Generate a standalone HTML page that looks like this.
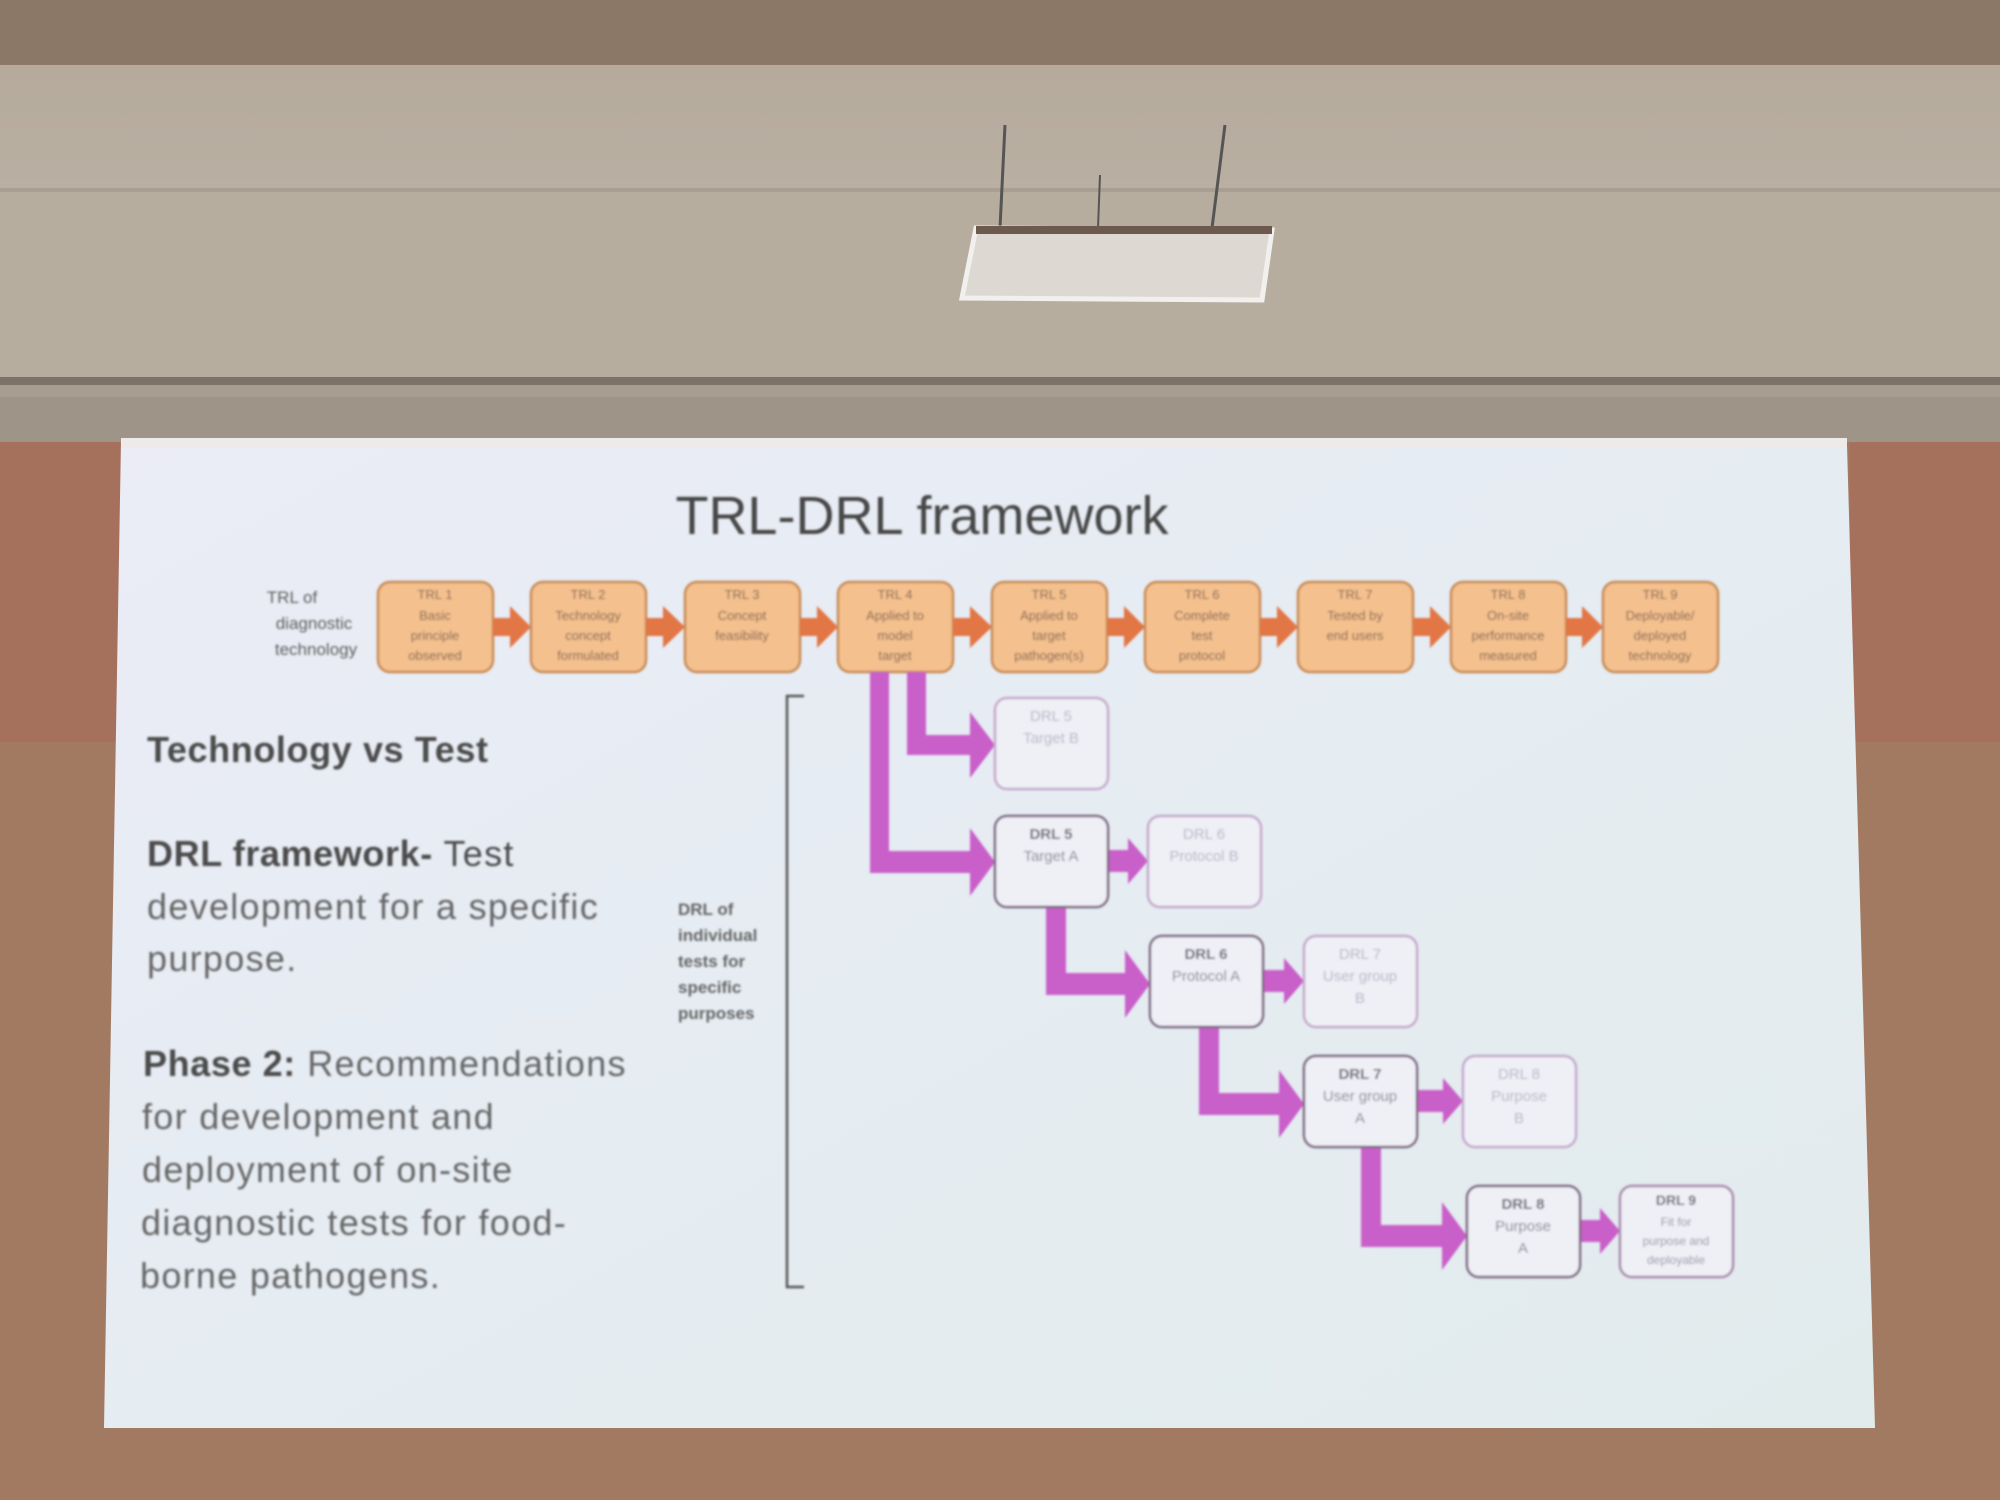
<!DOCTYPE html>
<html><head><meta charset="utf-8"><style>
html,body{margin:0;padding:0;width:2000px;height:1500px;overflow:hidden;background:#a27a62}
svg{display:block}
text{font-family:"Liberation Sans",sans-serif}
</style></head><body>
<svg width="2000" height="1500" viewBox="0 0 2000 1500" xmlns="http://www.w3.org/2000/svg">
<defs>
<linearGradient id="ceil" x1="0" y1="0" x2="0" y2="1">
<stop offset="0" stop-color="#b5aa9c"/><stop offset="1" stop-color="#b9afa2"/></linearGradient>
<linearGradient id="slide" x1="0" y1="0" x2="1" y2="1">
<stop offset="0" stop-color="#ebecf6"/><stop offset="0.5" stop-color="#e5ecf2"/><stop offset="1" stop-color="#e2ebec"/></linearGradient>
<filter id="b"><feGaussianBlur stdDeviation="1.1"/></filter>
</defs>
<rect x="0" y="0" width="2000" height="65" fill="#8c7866"/>
<rect x="0" y="65" width="2000" height="125" fill="url(#ceil)"/>
<rect x="0" y="188" width="2000" height="4" fill="#a99e90"/>
<rect x="0" y="192" width="2000" height="185" fill="#b7ad9f"/>
<rect x="0" y="377" width="2000" height="8" fill="#7e7268"/>
<rect x="0" y="385" width="2000" height="12" fill="#a79d90"/>
<rect x="0" y="397" width="2000" height="45" fill="#9e9488"/>
<rect x="0" y="442" width="2000" height="1058" fill="#a27a62"/>
<rect x="0" y="442" width="125" height="300" fill="#a5705c"/>
<rect x="1850" y="442" width="150" height="300" fill="#a5705c"/>
<line x1="1005" y1="125" x2="1000" y2="228" stroke="#555" stroke-width="3"/>
<line x1="1100" y1="175" x2="1098" y2="228" stroke="#555" stroke-width="2"/>
<line x1="1225" y1="125" x2="1212" y2="228" stroke="#555" stroke-width="3"/>
<polygon points="976,228 1272,230 1262,300 962,298" fill="#ddd8d2" stroke="#f2f0ee" stroke-width="5"/>
<rect x="976" y="226" width="296" height="8" fill="#6c5a4e"/>
<polygon points="121,440 1847,445 1875,1428 104,1428" fill="url(#slide)"/>
<rect x="121" y="438" width="1726" height="10" fill="#efeaea"/>
<g filter="url(#b)">
<text x="922" y="534" font-size="54" fill="#474747" text-anchor="middle">TRL-DRL framework</text>
<g font-size="17" fill="#5e5e5e" text-anchor="middle">
<text x="292" y="603">TRL of</text>
<text x="314" y="629">diagnostic</text>
<text x="316" y="655">technology</text>
</g>
<g stroke="#c88a55" stroke-width="2.5" fill="#f4c08e">
<rect x="378" y="582" width="115" height="90" rx="12"/>
<rect x="531" y="582" width="115" height="90" rx="12"/>
<rect x="685" y="582" width="115" height="90" rx="12"/>
<rect x="838" y="582" width="115" height="90" rx="12"/>
<rect x="992" y="582" width="115" height="90" rx="12"/>
<rect x="1145" y="582" width="115" height="90" rx="12"/>
<rect x="1298" y="582" width="115" height="90" rx="12"/>
<rect x="1451" y="582" width="115" height="90" rx="12"/>
<rect x="1603" y="582" width="115" height="90" rx="12"/>
</g>
<g fill="#e27645">
<polygon points="493,618 510,618 510,606 531,627 510,648 510,636 493,636"/>
<polygon points="646,618 663,618 663,606 685,627 663,648 663,636 646,636"/>
<polygon points="800,618 817,618 817,606 838,627 817,648 817,636 800,636"/>
<polygon points="953,618 970,618 970,606 992,627 970,648 970,636 953,636"/>
<polygon points="1107,618 1124,618 1124,606 1145,627 1124,648 1124,636 1107,636"/>
<polygon points="1260,618 1277,618 1277,606 1298,627 1277,648 1277,636 1260,636"/>
<polygon points="1413,618 1430,618 1430,606 1451,627 1430,648 1430,636 1413,636"/>
<polygon points="1566,618 1582,618 1582,606 1603,627 1582,648 1582,636 1566,636"/>
</g>
<g font-size="13" fill="#7e6250" text-anchor="middle">
<text x="435" y="599">TRL 1</text><text x="435" y="620">Basic</text><text x="435" y="640">principle</text><text x="435" y="660">observed</text>
<text x="588" y="599">TRL 2</text><text x="588" y="620">Technology</text><text x="588" y="640">concept</text><text x="588" y="660">formulated</text>
<text x="742" y="599">TRL 3</text><text x="742" y="620">Concept</text><text x="742" y="640">feasibility</text>
<text x="895" y="599">TRL 4</text><text x="895" y="620">Applied to</text><text x="895" y="640">model</text><text x="895" y="660">target</text>
<text x="1049" y="599">TRL 5</text><text x="1049" y="620">Applied to</text><text x="1049" y="640">target</text><text x="1049" y="660">pathogen(s)</text>
<text x="1202" y="599">TRL 6</text><text x="1202" y="620">Complete</text><text x="1202" y="640">test</text><text x="1202" y="660">protocol</text>
<text x="1355" y="599">TRL 7</text><text x="1355" y="620">Tested by</text><text x="1355" y="640">end users</text>
<text x="1508" y="599">TRL 8</text><text x="1508" y="620">On-site</text><text x="1508" y="640">performance</text><text x="1508" y="660">measured</text>
<text x="1660" y="599">TRL 9</text><text x="1660" y="620">Deployable/</text><text x="1660" y="640">deployed</text><text x="1660" y="660">technology</text>
</g>
<g font-size="36" fill="#4c4c4c" letter-spacing="1.3">
<text x="147" y="762" font-weight="bold" letter-spacing="0.6">Technology vs Test</text>
<text x="147" y="866"><tspan font-weight="bold" letter-spacing="0.6">DRL framework-</tspan> Test</text>
<text x="147" y="919" fill="#666">development for a specific</text>
<text x="147" y="971" fill="#666">purpose.</text>
<text x="143" y="1076"><tspan font-weight="bold" letter-spacing="0.6">Phase 2:</tspan><tspan fill="#666"> Recommendations</tspan></text>
<text x="142" y="1129" fill="#666">for development and</text>
<text x="142" y="1182" fill="#666">deployment of on-site</text>
<text x="141" y="1235" fill="#666">diagnostic tests for food-</text>
<text x="140" y="1288" fill="#666">borne pathogens.</text>
</g>
<path d="M804,696 H787 V1287 H804" fill="none" stroke="#555" stroke-width="2.5"/>
<g font-size="17" fill="#666" font-weight="bold">
<text x="678" y="915">DRL of</text>
<text x="678" y="941">individual</text>
<text x="678" y="967">tests for</text>
<text x="678" y="993">specific</text>
<text x="678" y="1019">purposes</text>
</g>
<g fill="#c95fc9">
<polygon points="907,672 926,672 926,735 970,735 970,712 995,745 970,778 970,755 907,755"/>
<polygon points="870,672 889,672 889,851 970,851 970,828 995,862 970,896 970,873 870,873"/>
<polygon points="1046,907 1066,907 1066,973 1125,973 1125,950 1150,984 1125,1018 1125,995 1046,995"/>
<polygon points="1199,1027 1219,1027 1219,1093 1279,1093 1279,1070 1304,1104 1279,1138 1279,1115 1199,1115"/>
<polygon points="1361,1147 1381,1147 1381,1225 1442,1225 1442,1202 1467,1236 1442,1270 1442,1247 1361,1247"/>
<polygon points="1108,850 1128,850 1128,838 1148,861 1128,884 1128,872 1108,872"/>
<polygon points="1263,970 1284,970 1284,958 1304,981 1284,1004 1284,992 1263,992"/>
<polygon points="1417,1090 1443,1090 1443,1078 1463,1101 1443,1124 1443,1112 1417,1112"/>
<polygon points="1580,1220 1600,1220 1600,1208 1620,1231 1600,1254 1600,1242 1580,1242"/>
</g>
<g fill="#eef0f6" stroke-width="2.5">
<rect x="995" y="698" width="113" height="91" rx="12" stroke="#c6a8cc"/>
<rect x="995" y="816" width="113" height="91" rx="12" stroke="#7d6680"/>
<rect x="1148" y="816" width="113" height="91" rx="12" stroke="#c6a8cc"/>
<rect x="1150" y="936" width="113" height="91" rx="12" stroke="#7d6680"/>
<rect x="1304" y="936" width="113" height="91" rx="12" stroke="#c6a8cc"/>
<rect x="1304" y="1056" width="113" height="91" rx="12" stroke="#7d6680"/>
<rect x="1463" y="1056" width="113" height="91" rx="12" stroke="#c6a8cc"/>
<rect x="1467" y="1186" width="113" height="91" rx="12" stroke="#7d6680"/>
<rect x="1620" y="1186" width="113" height="91" rx="12" stroke="#a888ac"/>
</g>
<g font-size="15" text-anchor="middle">
<g fill="#bcb4c4">
<text x="1051" y="721">DRL 5</text><text x="1051" y="743">Target B</text>
<text x="1204" y="839">DRL 6</text><text x="1204" y="861">Protocol B</text>
<text x="1360" y="959">DRL 7</text><text x="1360" y="981">User group</text><text x="1360" y="1003">B</text>
<text x="1519" y="1079">DRL 8</text><text x="1519" y="1101">Purpose</text><text x="1519" y="1123">B</text>
</g>
<g fill="#6a6270">
<text x="1051" y="839" font-weight="bold">DRL 5</text><text x="1051" y="861" fill="#8a8290">Target A</text>
<text x="1206" y="959" font-weight="bold">DRL 6</text><text x="1206" y="981" fill="#8a8290">Protocol A</text>
<text x="1360" y="1079" font-weight="bold">DRL 7</text><text x="1360" y="1101" fill="#8a8290">User group</text><text x="1360" y="1123" fill="#8a8290">A</text>
<text x="1523" y="1209" font-weight="bold">DRL 8</text><text x="1523" y="1231" fill="#8a8290">Purpose</text><text x="1523" y="1253" fill="#8a8290">A</text>
<text x="1676" y="1205" font-weight="bold" font-size="14">DRL 9</text>
</g>
<g fill="#9a90a0" font-size="12">
<text x="1676" y="1226">Fit for</text><text x="1676" y="1245">purpose and</text><text x="1676" y="1264">deployable</text>
</g>
</g>
</g>
</svg>
</body></html>
